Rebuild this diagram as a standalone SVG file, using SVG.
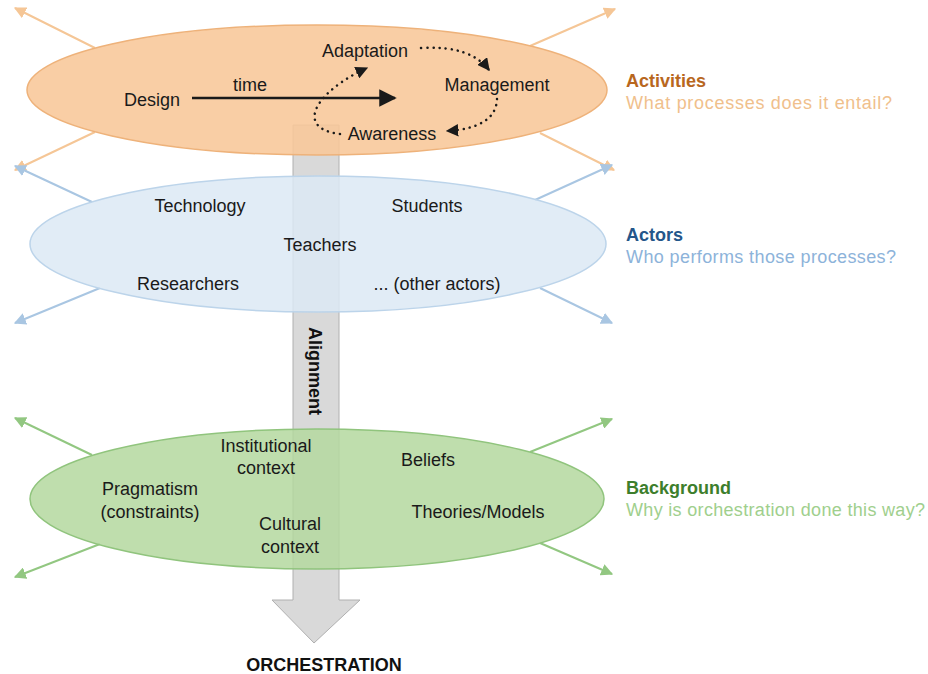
<svg xmlns="http://www.w3.org/2000/svg" width="928" height="674" viewBox="0 0 928 674">
<defs>
<style>
.t{font-family:"Liberation Sans",Arial,sans-serif;font-size:18px;fill:#1a1a1a;text-anchor:middle}
.h{font-family:"Liberation Sans",Arial,sans-serif;font-size:18px;font-weight:bold}
.q{font-family:"Liberation Sans",Arial,sans-serif;font-size:18px}
.lo{stroke:#f5c696;stroke-width:2;fill:none}
.lb{stroke:#a9c6e2;stroke-width:2;fill:none}
.lg{stroke:#92c781;stroke-width:2;fill:none}
.dot{stroke:#1a1a1a;stroke-width:2.5;fill:none;stroke-dasharray:0.1 6;stroke-linecap:round}
</style>
<marker id="mo" viewBox="0 0 10 10" refX="9" refY="5" markerWidth="6" markerHeight="6" orient="auto"><path d="M0,0 L10,5 L0,10 z" fill="#f5c696"/></marker>
<marker id="mb" viewBox="0 0 10 10" refX="9" refY="5" markerWidth="6" markerHeight="6" orient="auto"><path d="M0,0 L10,5 L0,10 z" fill="#a9c6e2"/></marker>
<marker id="mg" viewBox="0 0 10 10" refX="9" refY="5" markerWidth="6" markerHeight="6" orient="auto"><path d="M0,0 L10,5 L0,10 z" fill="#92c781"/></marker>
<marker id="mk" viewBox="0 0 10 10" refX="9" refY="5" markerWidth="7" markerHeight="7" orient="auto"><path d="M0,0 L10,5 L0,10 z" fill="#1a1a1a"/></marker>
<marker id="mk2" viewBox="0 0 10 10" refX="9" refY="5" markerWidth="5" markerHeight="5" orient="auto"><path d="M0,0 L10,5 L0,10 z" fill="#1a1a1a"/></marker>
</defs>
<rect width="928" height="674" fill="#ffffff"/>

<g id="alignment-arrow">
<path d="M293,125 L339,125 L339,600 L360,600 L314,643 L272,600 L293,600 Z" fill="#d9d9d9" stroke="#b0b0b0" stroke-width="1"/>
<text class="h" transform="translate(309,371) rotate(90)" text-anchor="middle" fill="#111" font-size="19">Alignment</text>
</g>

<g id="connectors">
<line class="lo" x1="95" y1="48" x2="15" y2="8" marker-end="url(#mo)"/>
<line class="lo" x1="530" y1="46" x2="615" y2="9" marker-end="url(#mo)"/>
<line class="lo" x1="95" y1="132" x2="15" y2="170" marker-end="url(#mo)"/>
<line class="lo" x1="540" y1="133" x2="614" y2="170" marker-end="url(#mo)"/>
<line class="lb" x1="92" y1="202" x2="15" y2="166" marker-end="url(#mb)"/>
<line class="lb" x1="535" y1="200" x2="612" y2="165" marker-end="url(#mb)"/>
<line class="lb" x1="100" y1="288" x2="15" y2="323" marker-end="url(#mb)"/>
<line class="lb" x1="540" y1="288" x2="612" y2="323" marker-end="url(#mb)"/>
<line class="lg" x1="92" y1="455" x2="15" y2="418" marker-end="url(#mg)"/>
<line class="lg" x1="530" y1="452" x2="612" y2="419" marker-end="url(#mg)"/>
<line class="lg" x1="100" y1="544" x2="15" y2="577" marker-end="url(#mg)"/>
<line class="lg" x1="540" y1="543" x2="612" y2="574" marker-end="url(#mg)"/>
</g>

<g id="activities">
<ellipse cx="317" cy="90" rx="290" ry="65" fill="#f8c799" fill-opacity="0.88" stroke="#eeb27a" stroke-width="1.5"/>
<text class="t" x="152" y="106">Design</text>
<text class="t" x="250" y="91">time</text>
<text class="t" x="365" y="57">Adaptation</text>
<text class="t" x="497" y="91">Management</text>
<text class="t" x="392" y="140">Awareness</text>
<line x1="192" y1="98" x2="395" y2="98" stroke="#1a1a1a" stroke-width="2.5" marker-end="url(#mk)"/>
<path class="dot" d="M421,48 Q470,45 489,70" marker-end="url(#mk2)"/>
<path class="dot" d="M497,99 Q496,128 447,131" marker-end="url(#mk2)"/>
<path class="dot" d="M340,134 C292,128 318,90 367,68" marker-end="url(#mk2)"/>
</g>

<g id="actors">
<ellipse cx="318" cy="244" rx="288" ry="68" fill="#dce9f5" fill-opacity="0.85" stroke="#bcd4ea" stroke-width="1.5"/>
<text class="t" x="200" y="212">Technology</text>
<text class="t" x="427" y="212">Students</text>
<text class="t" x="320" y="251">Teachers</text>
<text class="t" x="188" y="290">Researchers</text>
<text class="t" x="437" y="290">... (other actors)</text>
</g>

<g id="background">
<ellipse cx="317" cy="499" rx="287" ry="70" fill="#b4d89f" fill-opacity="0.85" stroke="#90c47d" stroke-width="1.5"/>
<text class="t" x="266" y="452">Institutional</text>
<text class="t" x="266" y="474">context</text>
<text class="t" x="428" y="466">Beliefs</text>
<text class="t" x="150" y="495">Pragmatism</text>
<text class="t" x="150" y="518">(constraints)</text>
<text class="t" x="478" y="518">Theories/Models</text>
<text class="t" x="290" y="530">Cultural</text>
<text class="t" x="290" y="553">context</text>
</g>

<g id="legend">
<text class="h" x="626" y="87" fill="#b8671e">Activities</text>
<text class="q" x="626" y="109" fill="#f0c08c" textLength="266" lengthAdjust="spacing">What processes does it entail?</text>
<text class="h" x="626" y="241" fill="#24568a">Actors</text>
<text class="q" x="626" y="263" fill="#8db3da" textLength="270" lengthAdjust="spacing">Who performs those processes?</text>
<text class="h" x="626" y="494" fill="#3d7e2c">Background</text>
<text class="q" x="626" y="516" fill="#a0cf8d" textLength="299" lengthAdjust="spacing">Why is orchestration done this way?</text>
</g>

<g id="orchestration">
<text class="h" x="324" y="671" text-anchor="middle" fill="#111" font-size="17">ORCHESTRATION</text>
</g>
</svg>
